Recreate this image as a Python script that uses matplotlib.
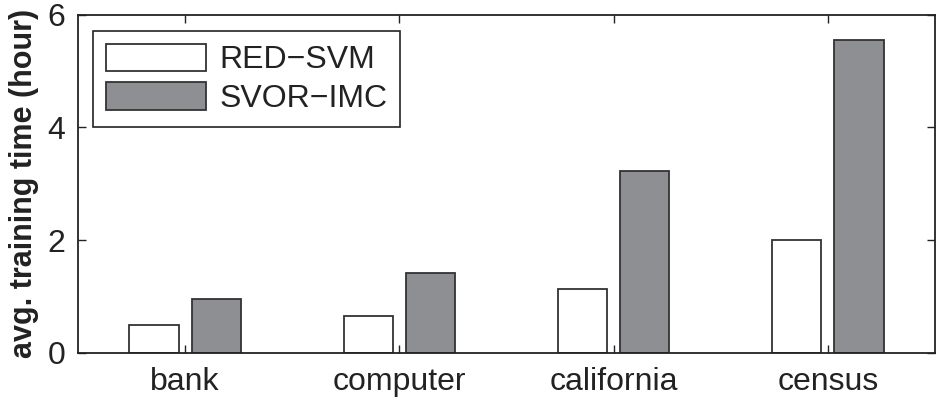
import matplotlib
matplotlib.use("Agg")
import matplotlib.pyplot as plt
import numpy as np

# Data
datasets = ["bank", "computer", "california", "census"]
red_svm = [0.49, 0.66, 1.14, 2.00]
svor_imc = [0.96, 1.41, 3.23, 5.54]
series_labels = ["RED\u2212SVM", "SVOR\u2212IMC"]

plt.rcParams['font.family'] = ['Liberation Sans', 'DejaVu Sans']

fig = plt.figure(figsize=(9.48, 3.98), dpi=100)
ax = fig.add_axes([78 / 948, 1 - 353 / 398, 857 / 948, 338.5 / 398])

x = np.arange(1, len(datasets) + 1)
width = 0.23
offset = 0.145
edge = '#333333'
ax.bar(x - offset, red_svm, width, color='white', edgecolor=edge, linewidth=1.3,
       label=series_labels[0])
ax.bar(x + offset, svor_imc, width, color='#8e8f92', edgecolor=edge, linewidth=1.3,
       label=series_labels[1])

ax.set_xlim(0.5, 4.5)
ax.set_ylim(0, 6)
ax.set_xticks(x)
ax.set_xticklabels(datasets)
ax.set_yticks([0, 2, 4, 6])
ax.tick_params(direction='in', length=6, width=1, top=True, right=True,
               labelsize=23, colors='#222222')
ax.tick_params(axis='y', pad=9)
ax.tick_params(axis='x', pad=10)
for s in ax.spines.values():
    s.set_linewidth(1.3)
    s.set_color('#222222')

ax.set_ylabel("avg. training time (hour)", fontsize=22, fontweight='bold',
              color='#222222', labelpad=6)

leg = ax.legend(loc='upper left', bbox_to_anchor=(0.0175, 0.952), fontsize=23,
                handlelength=3.15, handleheight=0.95, handletextpad=0.4,
                labelspacing=0.22, borderpad=0.4, borderaxespad=0,
                fancybox=False, framealpha=1)
leg.get_frame().set_edgecolor('#222222')
leg.get_frame().set_linewidth(1.2)
for t in leg.get_texts():
    t.set_color('#222222')

fig.savefig("out.png", dpi=100)
